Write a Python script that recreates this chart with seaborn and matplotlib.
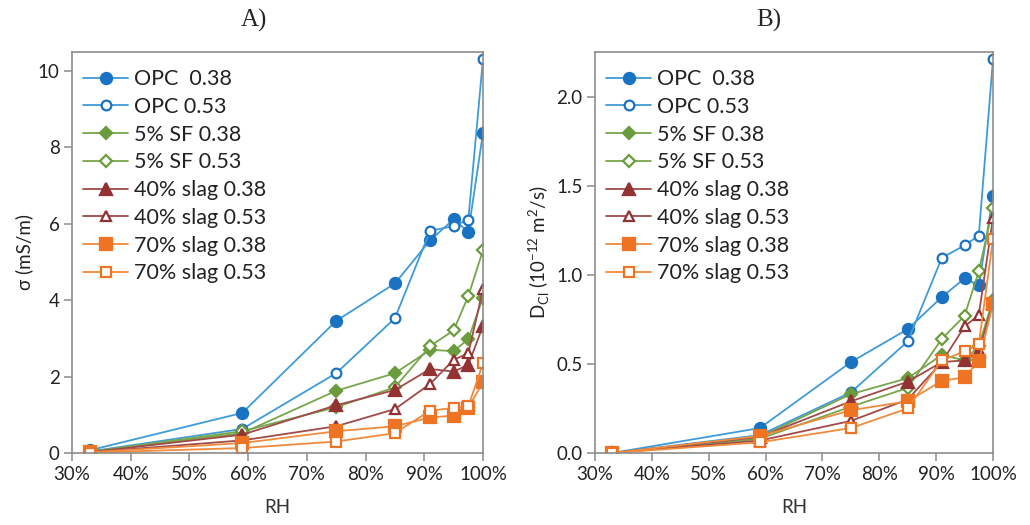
import seaborn as sns
import matplotlib.pyplot as plt
import pandas as pd

rh = [33, 59, 75, 85, 91, 95, 97.5, 100]

labels = ['OPC  0.38', 'OPC 0.53', '5% SF 0.38', '5% SF 0.53',
          '40% slag 0.38', '40% slag 0.53', '70% slag 0.38', '70% slag 0.53']

# conductivity, mS/m
sigma_opc_038 = [0.07, 1.05, 3.46, 4.44, 5.57, 6.12, 5.79, 8.38]
sigma_opc_053 = [0.04, 0.63, 2.09, 3.53, 5.82, 5.94, 6.11, 10.32]
sigma_sf_038 = [0.03, 0.52, 1.63, 2.09, 2.70, 2.67, 2.98, 4.07]
sigma_sf_053 = [0.03, 0.57, 1.20, 1.72, 2.80, 3.21, 4.11, 5.31]
sigma_s40_038 = [0.02, 0.48, 1.25, 1.65, 2.20, 2.13, 2.31, 3.33]
sigma_s40_053 = [0.02, 0.33, 0.70, 1.15, 1.81, 2.44, 2.61, 4.29]
sigma_s70_038 = [0.02, 0.26, 0.57, 0.70, 0.93, 0.98, 1.19, 1.85]
sigma_s70_053 = [0.01, 0.13, 0.30, 0.52, 1.11, 1.18, 1.22, 2.35]

# chloride diffusivity, 1e-12 m2/s
dcl_opc_038 = [0.0, 0.14, 0.51, 0.695, 0.875, 0.98, 0.94, 1.443]
dcl_opc_053 = [0.0, 0.10, 0.34, 0.626, 1.095, 1.165, 1.22, 2.21]
dcl_sf_038 = [0.0, 0.09, 0.33, 0.42, 0.55, 0.52, 0.60, 0.86]
dcl_sf_053 = [0.0, 0.08, 0.26, 0.365, 0.64, 0.77, 1.02, 1.375]
dcl_s40_038 = [0.0, 0.09, 0.29, 0.40, 0.51, 0.52, 0.57, 0.84]
dcl_s40_053 = [0.0, 0.07, 0.18, 0.30, 0.51, 0.71, 0.775, 1.32]
dcl_s70_038 = [0.0, 0.095, 0.24, 0.29, 0.405, 0.425, 0.515, 0.835]
dcl_s70_053 = [0.0, 0.06, 0.14, 0.25, 0.52, 0.57, 0.61, 1.20]

sigma = [sigma_opc_038, sigma_opc_053, sigma_sf_038, sigma_sf_053,
         sigma_s40_038, sigma_s40_053, sigma_s70_038, sigma_s70_053]
dcl = [dcl_opc_038, dcl_opc_053, dcl_sf_038, dcl_sf_053,
       dcl_s40_038, dcl_s40_053, dcl_s70_038, dcl_s70_053]

line_colors = ['#3f9bd8', '#3f9bd8', '#77a64a', '#77a64a',
               '#a04a4a', '#a04a4a', '#f08a3c', '#f08a3c']
mark_colors = ['#1a72c2', '#1a72c2', '#6a9b3c', '#6a9b3c',
               '#923232', '#923232', '#ee7424', '#ee7424']
markers = ['o', 'o', 'D', 'D', '^', '^', 's', 's']
msizes = [8, 7, 6, 6, 8, 7, 8, 7]
filled = [True, False, True, False, True, False, True, False]

sns.set_theme(style='white')
plt.rcParams['font.family'] = ['Lato', 'DejaVu Sans']

fig = plt.figure(figsize=(10.3, 5.25), dpi=100)
ax1 = fig.add_axes([72 / 1030, 1 - 453 / 525, 411 / 1030, 401 / 525])
ax2 = fig.add_axes([595 / 1030, 1 - 453 / 525, 398 / 1030, 401 / 525])


def draw(ax, values):
    for i, vals in enumerate(values):
        df = pd.DataFrame({'RH': rh, 'v': vals})
        sns.lineplot(data=df, x='RH', y='v', ax=ax, sort=False, label=labels[i],
                     color=line_colors[i], lw=1.3, marker=markers[i],
                     markersize=msizes[i],
                     markerfacecolor=mark_colors[i] if filled[i] else 'white',
                     markeredgecolor=mark_colors[i], markeredgewidth=1.6)
    ax.set_xlim(30, 100)
    ax.set_xticks(range(30, 101, 10))
    ax.set_xticklabels([f'{t}%' for t in range(30, 101, 10)])
    for s in ax.spines.values():
        s.set_color('#8c8c8c')
        s.set_linewidth(1.2)
    ax.tick_params(axis='both', direction='out', length=6, width=1.1,
                   color='#8c8c8c', labelsize=13.5, colors='#8c8c8c',
                   labelcolor='#222222', pad=3)
    ax.tick_params(bottom=True, left=True)
    ax.set_xlabel('RH', fontsize=13.5, color='#333333', labelpad=12)
    leg = ax.legend(loc='upper left', frameon=False, fontsize=15.5,
                    handlelength=2.1, handletextpad=0.25, labelspacing=0.36,
                    borderaxespad=0.3, bbox_to_anchor=(-0.01, 0.995))
    for t in leg.get_texts():
        t.set_color('#222222')


draw(ax1, sigma)
ax1.set_ylim(0, 10.5)
ax1.set_yticks(range(0, 11, 2))
ax1.set_ylabel('σ (mS/m)', fontsize=13.5, color='#222222', labelpad=3)

draw(ax2, dcl)
ax2.set_ylim(0, 2.25)
ax2.set_yticks([0, 0.5, 1.0, 1.5, 2.0])
ax2.set_yticklabels(['0.0', '0.5', '1.0', '1.5', '2.0'])
ax2.set_ylabel('D$_{\\mathregular{Cl}}$ (10$^{\\mathregular{-12}}$ m$^{\\mathregular{2}}$/s)',
               fontsize=13.5, color='#222222', labelpad=3)

fig.text(254 / 1030, 1 - 20 / 525, 'A)', ha='center', va='center',
         fontsize=18, family='Liberation Serif')
fig.text(769 / 1030, 1 - 20 / 525, 'B)', ha='center', va='center',
         fontsize=18, family='Liberation Serif')

fig.savefig('out.png', dpi=100)
